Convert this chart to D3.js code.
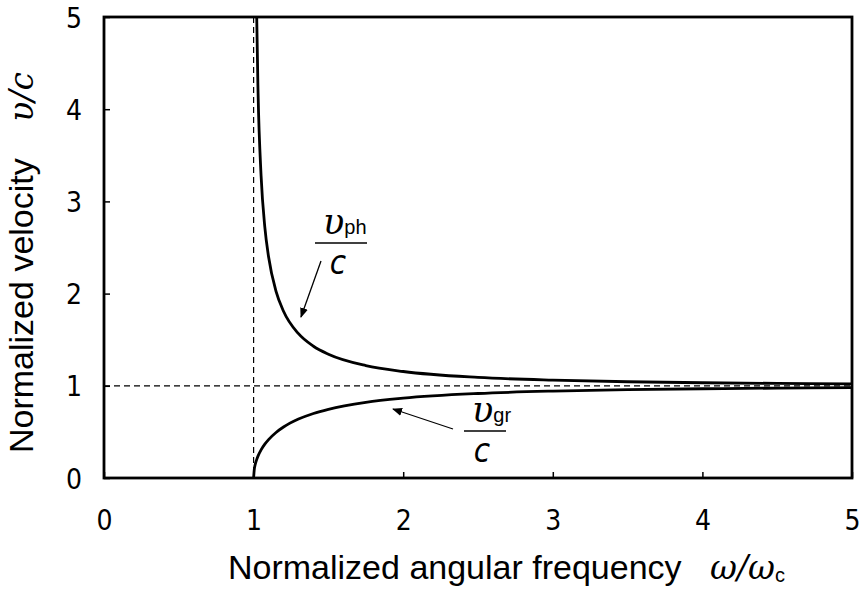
<!DOCTYPE html>
<html><head><meta charset="utf-8">
<script src="https://cdn.jsdelivr.net/npm/d3@7"></script>
<style>body{margin:0;background:#fff}svg{display:block}</style>
</head><body><svg id="c" width="862" height="589"></svg>
<script>
const xTicks = [0,1,2,3,4,5];
const yTicks = [0,1,2,3,4,5];
const omega = [1.0, 1.005, 1.01, 1.015, 1.02, 1.03, 1.05, 1.075, 1.1, 1.15, 1.2, 1.3, 1.4, 1.5, 1.75, 2, 2.5, 3, 3.5, 4, 4.5, 5];
const vPhase = [null, 10.0, 7.12, 5.84, 5.08, 4.17, 3.28, 2.72, 2.40, 2.025, 1.809, 1.565, 1.429, 1.342, 1.219, 1.155, 1.091, 1.061, 1.044, 1.033, 1.026, 1.021];
const vGroup = [0, 0.0997, 0.1404, 0.1713, 0.197, 0.2396, 0.305, 0.367, 0.4166, 0.4938, 0.5528, 0.639, 0.700, 0.7454, 0.8207, 0.866, 0.9165, 0.9428, 0.9583, 0.9682, 0.975, 0.9798];
const cutoff = 1, asymptote = 1;

const svg = d3.select('#c');
const L=104, R=852, T=17, B=478;
const x = d3.scaleLinear().domain([0,5]).range([L,R]);
const y = d3.scaleLinear().domain([0,5]).range([B,T]);
const SANS = 'Liberation Sans, Arial, sans-serif';
const TICKF = 'DejaVu Sans Condensed, DejaVu Sans, Verdana, sans-serif';
const SERIF = 'DejaVu Serif, serif';

svg.append('defs').append('clipPath').attr('id','clip').append('rect')
  .attr('x',L).attr('y',T).attr('width',R-L).attr('height',B-T);
svg.select('defs').append('marker').attr('id','arr').attr('viewBox','0 0 10 10')
  .attr('refX',9).attr('refY',5).attr('markerWidth',10).attr('markerHeight',10)
  .attr('markerUnits','userSpaceOnUse').attr('orient','auto')
  .append('path').attr('d','M0,1 L10,5 L0,9 Z').attr('fill','#000');

// dashed reference lines
svg.append('line').attr('x1',x(cutoff)).attr('x2',x(cutoff)).attr('y1',T).attr('y2',B)
  .attr('stroke','#000').attr('stroke-width',1.2).attr('stroke-dasharray','6,4');
svg.append('line').attr('x1',L).attr('x2',R).attr('y1',y(asymptote)).attr('y2',y(asymptote))
  .attr('stroke','#000').attr('stroke-width',1.2).attr('stroke-dasharray','6,4');

const line = d3.line().defined(d=>d[1]!=null).x(d=>x(d[0])).y(d=>y(d[1])).curve(d3.curveMonotoneX);
const g = svg.append('g').attr('clip-path','url(#clip)');
g.append('path').attr('d', line(omega.map((w,i)=>[w,vPhase[i]])))
  .attr('fill','none').attr('stroke','#000').attr('stroke-width',2.8);
g.append('path').attr('d', line(omega.map((w,i)=>[w,vGroup[i]])))
  .attr('fill','none').attr('stroke','#000').attr('stroke-width',2.8);

// axes ticks (inward)
const xa = svg.append('g').attr('transform',`translate(0,${B})`)
  .call(d3.axisBottom(x).tickValues(xTicks).tickSize(-6).tickFormat(d3.format('d')));
const ya = svg.append('g').attr('transform',`translate(${L},0)`)
  .call(d3.axisLeft(y).tickValues(yTicks).tickSize(-6).tickFormat(d3.format('d')));
[xa,ya].forEach(a=>{
  a.select('.domain').remove();
  a.selectAll('line').attr('stroke','#000').attr('stroke-width',1.5);
  a.selectAll('text').attr('font-family',TICKF).attr('font-size',28).attr('fill','#000');
});
xa.selectAll('.tick text').attr('y',42).attr('dy','0.36em');
ya.selectAll('.tick text').attr('x',-22).attr('dy','0.36em');

// frame
svg.append('rect').attr('x',L).attr('y',T).attr('width',R-L).attr('height',B-T)
  .attr('fill','none').attr('stroke','#000').attr('stroke-width',2.8);

// axis titles
svg.append('text').attr('x',228).attr('y',579).attr('font-family',SANS).attr('font-size',34).attr('fill','#000')
  .text('Normalized angular frequency');
const xm = svg.append('text').attr('x',710).attr('y',579).attr('font-family',SERIF).attr('font-style','italic')
  .attr('font-size',33).attr('fill','#000');
xm.append('tspan').text('ω/ω');
xm.append('tspan').attr('font-family',SANS).attr('font-style','normal').attr('font-size',20).attr('dy',3).text('c');

svg.append('text').attr('transform','translate(33,453) rotate(-90)')
  .attr('font-family',SANS).attr('font-size',34).attr('fill','#000').text('Normalized velocity');
svg.append('text').attr('transform','translate(33,72) rotate(-90)').attr('text-anchor','end')
  .attr('font-family',SERIF).attr('font-style','italic').attr('font-size',33).attr('fill','#000').text('υ/c');

// fraction labels
function frac(x0, x1, lineY, sub){
  const t = svg.append('text').attr('x',x0+8).attr('y',lineY-9).attr('fill','#000');
  t.append('tspan').attr('font-family',SERIF).attr('font-style','italic').attr('font-size',35).text('υ');
  t.append('tspan').attr('font-family',SANS).attr('font-size',20).text(sub);
  svg.append('line').attr('x1',x0).attr('x2',x1).attr('y1',lineY).attr('y2',lineY).attr('stroke','#000').attr('stroke-width',1.4);
  svg.append('text').attr('x',(x0+x1)/2-3).attr('y',lineY+31).attr('text-anchor','middle').attr('fill','#000')
    .attr('font-family',TICKF).attr('font-style','italic').attr('font-size',33).text('c');
}
frac(315, 367, 243, 'ph');
frac(464, 506, 431, 'gr');

svg.append('line').attr('x1',321).attr('y1',261).attr('x2',301).attr('y2',317)
  .attr('stroke','#000').attr('stroke-width',1.3).attr('marker-end','url(#arr)');
svg.append('line').attr('x1',453).attr('y1',429).attr('x2',393).attr('y2',409)
  .attr('stroke','#000').attr('stroke-width',1.3).attr('marker-end','url(#arr)');
</script></body></html>
